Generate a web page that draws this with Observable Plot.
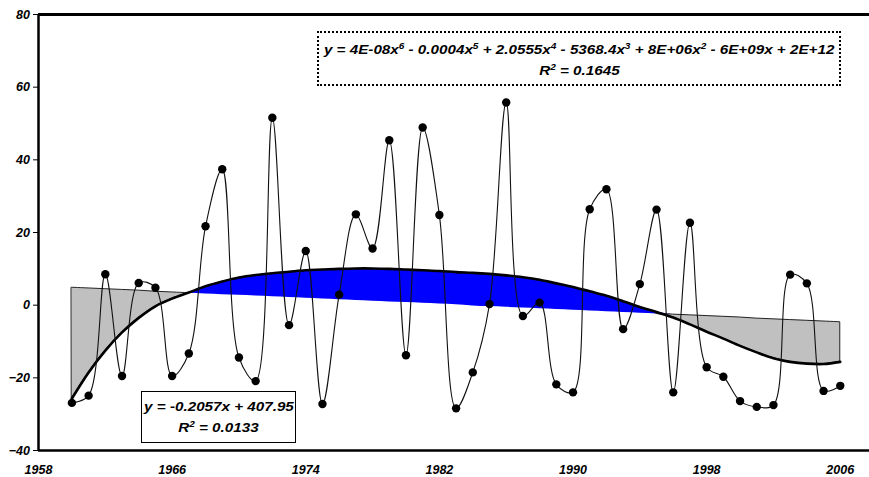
<!DOCTYPE html>
<html>
<head>
<meta charset="utf-8">
<script src="https://cdn.jsdelivr.net/npm/d3@7"></script>
<script src="https://cdn.jsdelivr.net/npm/@observablehq/plot@0.6"></script>
<style>
  html, body { margin: 0; padding: 0; background: #fff; }
  #wrap { position: relative; width: 869px; height: 477px; font-family: "Liberation Sans", Arial, sans-serif; }
  .box { position: absolute; box-sizing: border-box; background: #fff; color: #000;
         font-weight: bold; font-style: italic; text-align: center; white-space: nowrap; }
  .box span { display: inline-block; transform: scaleX(1.17); transform-origin: 50% 50%; }
  .box sup { font-size: 0.66em; vertical-align: 0.6em; line-height: 0; }
  #polyBox { left: 317px; top: 31px; width: 524px; height: 55px; border: 2px dotted #000;
             font-size: 13px; line-height: 21px; padding-top: 6px; }
  #linBox { left: 141px; top: 391px; width: 155px; height: 52px; border: 1px solid #000;
            font-size: 13px; line-height: 20.5px; padding-top: 5px; }
</style>
</head>
<body>
<div id="wrap">
  <div id="chart"></div>
  <div class="box" id="polyBox"><div><span>y = 4E-08x<sup>6</sup> - 0.0004x<sup>5</sup> + 2.0555x<sup>4</sup> - 5368.4x<sup>3</sup> + 8E+06x<sup>2</sup> - 6E+09x + 2E+12</span></div><div><span>R<sup>2</sup> = 0.1645</span></div></div>
  <div class="box" id="linBox"><div><span>y = -0.2057x + 407.95</span></div><div><span>R<sup>2</sup> = 0.0133</span></div></div>
</div>
<script>
const years = [1960,1961,1962,1963,1964,1965,1966,1967,1968,1969,
               1970,1971,1972,1973,1974,1975,1976,1977,1978,1979,
               1980,1981,1982,1983,1984,1985,1986,1987,1988,1989,
               1990,1991,1992,1993,1994,1995,1996,1997,1998,1999,
               2000,2001,2002,2003,2004,2005,2006];

const values = [-26.9,-24.9,8.5,-19.5,6.1,4.8,-19.5,-13.3,21.7,37.4,
                -14.4,-20.9,51.6,-5.5,14.9,-27.2,2.9,25.0,15.6,45.4,
                -13.8,48.9,24.8,-28.4,-18.5,0.3,55.8,-3.0,0.7,-21.8,
                -24.0,26.4,31.9,-6.6,5.8,26.3,-24.0,22.7,-17.1,-19.7,
                -26.4,-28.0,-27.5,8.4,6.0,-23.6,-22.2];

const polyTrend = [-25.7,-18.5,-12.5,-7.5,-3.5,-0.3,1.8,3.5,5.2,6.5,
                   7.6,8.3,8.8,9.2,9.6,9.8,10.0,10.1,10.1,10.0,
                   9.8,9.6,9.4,9.1,8.9,8.6,8.2,7.7,7.0,6.0,
                   5.0,3.8,2.6,1.1,-0.5,-1.9,-3.4,-5.3,-7.3,-9.2,
                   -11.2,-13.0,-14.6,-15.6,-16.1,-16.2,-15.6];

const linTrend = [4.8,4.6,4.4,4.2,4.0,3.7,3.5,3.3,3.1,2.9,
                  2.7,2.5,2.3,2.1,1.9,1.7,1.5,1.3,1.1,0.9,
                  0.7,0.5,0.3,0.1,-0.2,-0.4,-0.6,-0.8,-1.0,-1.2,
                  -1.4,-1.6,-1.8,-2.0,-2.2,-2.4,-2.6,-2.8,-3.0,-3.2,
                  -3.4,-3.7,-3.9,-4.1,-4.3,-4.5,-4.7];

const xTicks = [1958,1966,1974,1982,1990,1998,2006];
const yTicks = [-40,-20,0,20,40,60,80];

const rows = years.map((yr, i) => ({year: yr, value: values[i], poly: polyTrend[i], lin: linTrend[i]}));
const grayRows = rows.filter(d => d.year <= 1967 || d.year >= 1995);

const chart = Plot.plot({
  width: 869,
  height: 477,
  marginLeft: 38,
  marginRight: 0,
  marginTop: 14,
  marginBottom: 27,
  x: {domain: [1958, 2007.75], ticks: xTicks, tickFormat: d => String(d), label: null, tickSize: 0, tickPadding: 15},
  y: {domain: [-40, 80], ticks: yTicks, label: null, tickSize: 5, tickPadding: 3.5},
  style: {fontFamily: "'Liberation Sans', Arial, sans-serif", fontSize: "12.5px", fontWeight: "bold", fontStyle: "italic", background: "#fff", color: "#000", overflow: "visible"},
  marks: [
    Plot.areaY(rows, {x: "year", y1: "lin", y2: d => Math.max(d.lin, d.poly), fill: "#0000ff", curve: "catmull-rom"}),
    Plot.areaY(grayRows, {x: "year", y1: "lin", y2: d => Math.min(d.lin, d.poly), z: d => d.year <= 1967 ? "early" : "late",
      fill: "#c0c0c0", stroke: "#222", strokeWidth: 1, curve: "catmull-rom"}),
    Plot.line(rows, {x: "year", y: "poly", stroke: "#000", strokeWidth: 2.6, curve: "catmull-rom"}),
    Plot.line(rows, {x: "year", y: "value", stroke: "#111", strokeWidth: 1.1, curve: "catmull-rom"}),
    Plot.dot(rows, {x: "year", y: "value", r: 4.2, fill: "#000"}),
    Plot.ruleX([1958], {stroke: "#000", strokeWidth: 2.5}),
    Plot.ruleY([-40], {stroke: "#000", strokeWidth: 2.5}),
    Plot.ruleY([80], {stroke: "#000", strokeWidth: 3})
  ]
});
document.getElementById("chart").appendChild(chart);
</script>
</body>
</html>
